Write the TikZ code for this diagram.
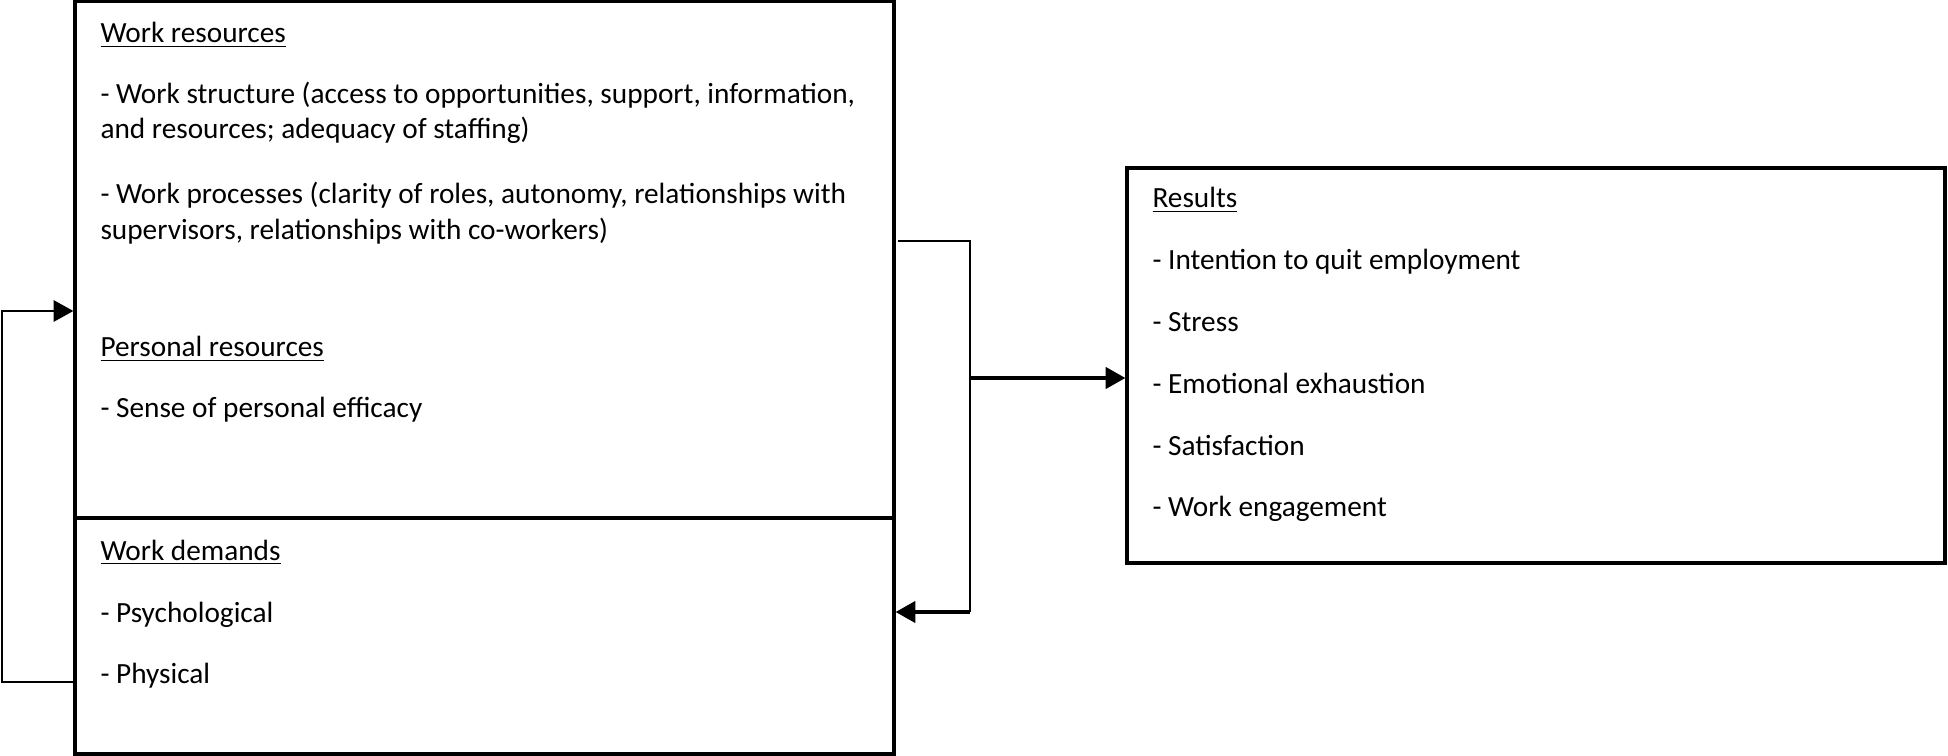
\documentclass[tikz,border=0pt]{standalone}
\usepackage{fontspec}
\setmainfont{Carlito}
\usetikzlibrary{positioning}
\usetikzlibrary{arrows.meta}
\usetikzlibrary{fit}

\begin{document}
\begin{tikzpicture}[x=0.379pt, y=-0.379pt,
    box/.style={draw, line width=1.2pt, inner sep=0pt},
    txt/.style={anchor=base west, inner sep=0pt, font=\fontsize{11.1}{13.4}\selectfont},
    conn/.style={line width=1pt},
    arr/.style={line width=1.5pt, -{Triangle[length=7.5pt, width=8pt]}}]
  \useasboundingbox (0,0) rectangle (1948,756);

  % Boxes
  \node[box, fit={(75,1.5) (894,518)}] (res) {};
  \node[box, fit={(75,518) (894,754)}] (dem) {};
  \node[box, fit={(1127,168) (1945,563)}] (out) {};

  % Resources
  \node[txt] (reshead) at (100,43) {\underline{Work resources}};
  \node[txt] (struct) at (100,104) {- Work structure (access to opportunities, support, information,};
  \node[txt] (struct2) at (100,139) {and resources; adequacy of staffing)};
  \node[txt] (proc) at (100,204) {- Work processes (clarity of roles, autonomy, relationships with};
  \node[txt] (proc2) at (100,240) {supervisors, relationships with co-workers)};
  \node[txt] (pershead) at (100,357) {\underline{Personal resources}};
  \node[txt] (eff) at (100,417) {- Sense of personal efficacy};

  % Demands
  \node[txt] (demhead) at (100,560) {\underline{Work demands}};
  \node[txt] (psych) at (100,622) {- Psychological};
  \node[txt] (phys) at (100,683) {- Physical};

  % Results
  \node[txt] (outhead) at (1152,208) {\underline{Results}};
  \foreach \lbl/\yy [count=\i] in {Intention to quit employment/270, Stress/332,
      Emotional exhaustion/393, Satisfaction/455, Work engagement/516}
    \node[txt] (out\i) at (1152,\yy) {- \lbl};

  % Connectors
  \coordinate (jtop) at (970,241);
  \coordinate (jmid) at (970,378);
  \coordinate (jbot) at (970,612);
  \coordinate (ltop) at (2,311);
  \coordinate (lbot) at (2,682);

  \draw[conn] ([xshift=1pt]res.east |- jtop) -- (jtop) -- (jbot);
  \draw[arr] (jbot) -- (dem.east |- jbot);
  \draw[arr] (jmid) -- (out.west |- jmid);
  \draw[conn, -{Triangle[length=7.5pt, width=8pt]}] (dem.west |- lbot) -- (lbot) -- (ltop) -- (res.west |- ltop);
\end{tikzpicture}
\end{document}
